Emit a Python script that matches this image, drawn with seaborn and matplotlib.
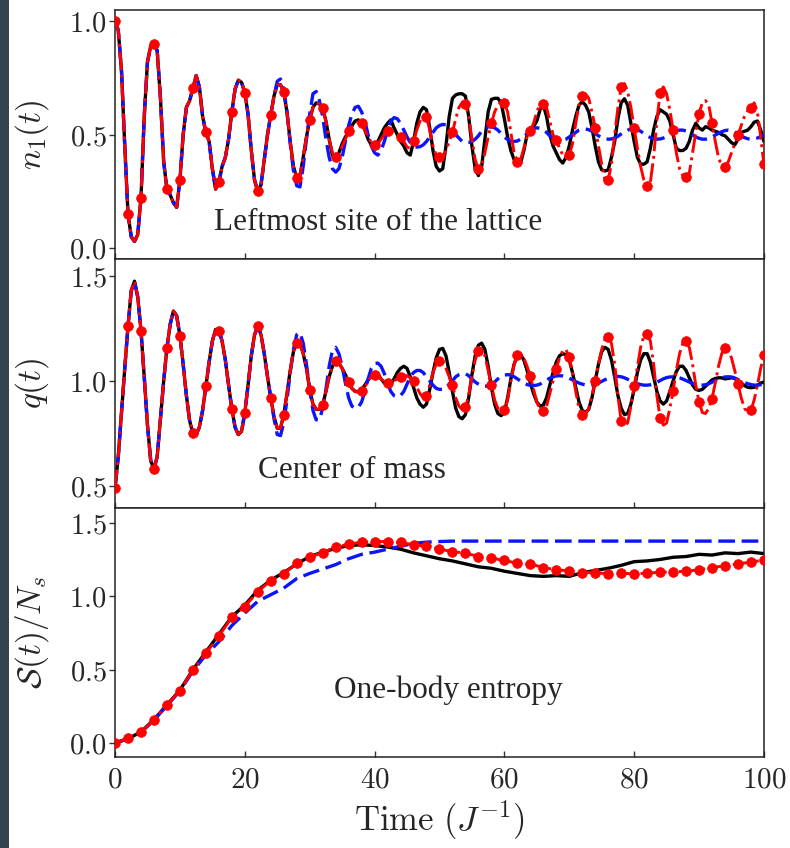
import numpy as np
import matplotlib
matplotlib.use("Agg")
import matplotlib.pyplot as plt
from matplotlib.patches import Rectangle
from matplotlib.ticker import FuncFormatter
import seaborn as sns

# Time grids: dense grid for the oscillating panels, dots every 2 J^-1
time_fine = np.arange(0, 100.5, 0.5)
time_coarse = np.arange(0, 101, 2)

# ---- n1(t): leftmost site (t = 0 .. 24, all three curves agree) ----
n1_common = [
    1.00, 0.96, 0.78, 0.45, 0.15, 0.05, 0.03, 0.06, 0.22, 0.58,
    0.82, 0.89, 0.90, 0.87, 0.66, 0.38, 0.26, 0.235, 0.20, 0.18,
    0.30, 0.50, 0.62, 0.65, 0.705, 0.76, 0.71, 0.58, 0.51, 0.47,
    0.35, 0.26, 0.29, 0.36, 0.40, 0.48, 0.60, 0.70, 0.74, 0.73,
    0.685, 0.59, 0.43, 0.30, 0.25, 0.28, 0.39, 0.50, 0.587,
]
# t = 24.5 .. 100
n1_black_tail = [
    0.67, 0.72, 0.72, 0.687, 0.60, 0.47, 0.36, 0.31, 0.32, 0.40,
    0.49, 0.565, 0.62, 0.64, 0.635, 0.617, 0.56, 0.48, 0.41, 0.395,
    0.42, 0.46, 0.49, 0.51, 0.54, 0.56, 0.565, 0.55, 0.52, 0.48,
    0.455, 0.45, 0.47, 0.50, 0.53, 0.55, 0.565, 0.53, 0.50, 0.47,
    0.45, 0.42, 0.41, 0.47, 0.55, 0.60, 0.62, 0.61, 0.53, 0.43,
    0.36, 0.34, 0.35, 0.45, 0.58, 0.66, 0.675, 0.68, 0.68, 0.67,
    0.58, 0.45, 0.35, 0.32, 0.36, 0.48, 0.60, 0.655, 0.66, 0.66,
    0.64, 0.57, 0.49, 0.43, 0.39, 0.37, 0.375, 0.43, 0.50, 0.53,
    0.535, 0.56, 0.61, 0.63, 0.58, 0.50, 0.45, 0.42, 0.39, 0.375,
    0.40, 0.45, 0.52, 0.58, 0.63, 0.645, 0.63, 0.60, 0.53, 0.45,
    0.38, 0.345, 0.34, 0.345, 0.40, 0.47, 0.57, 0.64, 0.658, 0.63,
    0.55, 0.47, 0.40, 0.37, 0.37, 0.38, 0.44, 0.52, 0.58, 0.61,
    0.60, 0.59, 0.56, 0.50, 0.44, 0.43, 0.43, 0.44, 0.47, 0.52,
    0.55, 0.53, 0.52, 0.535, 0.53, 0.52, 0.515, 0.51, 0.50, 0.495,
    0.48, 0.465, 0.455, 0.48, 0.51, 0.515, 0.52, 0.535, 0.555, 0.56,
    0.52, 0.47,
]
n1_red_tail = [
    0.67, 0.72, 0.72, 0.687, 0.60, 0.47, 0.36, 0.31, 0.32, 0.40,
    0.49, 0.565, 0.62, 0.64, 0.635, 0.617, 0.56, 0.48, 0.42, 0.40,
    0.42, 0.45, 0.48, 0.514, 0.535, 0.55, 0.555, 0.55, 0.52, 0.49,
    0.465, 0.455, 0.46, 0.48, 0.50, 0.514, 0.52, 0.51, 0.50, 0.49,
    0.47, 0.445, 0.44, 0.47, 0.52, 0.56, 0.58, 0.578, 0.52, 0.45,
    0.41, 0.40, 0.40, 0.43, 0.47, 0.51, 0.57, 0.62, 0.64, 0.634,
    0.58, 0.48, 0.39, 0.347, 0.36, 0.42, 0.49, 0.55, 0.60, 0.63,
    0.645, 0.64, 0.60, 0.51, 0.42, 0.38, 0.39, 0.44, 0.49, 0.517,
    0.55, 0.60, 0.635, 0.637, 0.62, 0.56, 0.50, 0.476, 0.44, 0.41,
    0.40, 0.41, 0.46, 0.55, 0.63, 0.67, 0.68, 0.66, 0.60, 0.53,
    0.45, 0.37, 0.30, 0.30, 0.37, 0.50, 0.62, 0.708, 0.725, 0.69,
    0.62, 0.53, 0.44, 0.36, 0.30, 0.273, 0.29, 0.40, 0.56, 0.684,
    0.71, 0.68, 0.61, 0.52, 0.42, 0.35, 0.32, 0.315, 0.33, 0.42,
    0.51, 0.593, 0.64, 0.65, 0.63, 0.55, 0.47, 0.40, 0.36, 0.359,
    0.38, 0.42, 0.46, 0.497, 0.54, 0.58, 0.605, 0.616, 0.64, 0.60,
    0.49, 0.37,
]
n1_blue_tail = [
    0.67, 0.735, 0.745, 0.70, 0.60, 0.46, 0.34, 0.275, 0.27, 0.36,
    0.48, 0.59, 0.68, 0.69, 0.65, 0.58, 0.48, 0.40, 0.35, 0.335,
    0.35, 0.40, 0.47, 0.54, 0.59, 0.62, 0.625, 0.60, 0.56, 0.50,
    0.45, 0.42, 0.41, 0.43, 0.47, 0.52, 0.56, 0.575, 0.57, 0.55,
    0.52, 0.49, 0.465, 0.45, 0.445, 0.447, 0.455, 0.47, 0.49, 0.51,
    0.53, 0.54, 0.545, 0.543, 0.535, 0.52, 0.50, 0.485, 0.47, 0.466,
    0.466, 0.47, 0.48, 0.495, 0.515, 0.528, 0.534, 0.535, 0.53, 0.52,
    0.505, 0.49, 0.478, 0.472, 0.47, 0.472, 0.48, 0.49, 0.505, 0.518,
    0.527, 0.53, 0.528, 0.52, 0.51, 0.495, 0.485, 0.478, 0.475, 0.476,
    0.48, 0.49, 0.50, 0.51, 0.52, 0.524, 0.525, 0.522, 0.515, 0.505,
    0.495, 0.487, 0.482, 0.48, 0.481, 0.485, 0.493, 0.503, 0.513, 0.52,
    0.524, 0.525, 0.522, 0.515, 0.505, 0.495, 0.487, 0.482, 0.48, 0.481,
    0.485, 0.492, 0.50, 0.51, 0.517, 0.52, 0.52, 0.516, 0.51, 0.50,
    0.49, 0.484, 0.48, 0.48, 0.483, 0.49, 0.498, 0.506, 0.513, 0.518,
    0.52, 0.518, 0.512, 0.503, 0.494, 0.487, 0.482, 0.48, 0.481, 0.485,
    0.492, 0.50,
]

# ---- q(t): center of mass ----
q_common = [
    0.49, 0.64, 0.85, 1.06, 1.26, 1.43, 1.475, 1.40, 1.24, 1.02,
    0.79, 0.62, 0.58, 0.64, 0.82, 1.00, 1.157, 1.27, 1.333, 1.31,
    1.216, 1.08, 0.93, 0.81, 0.75, 0.745, 0.78, 0.86, 0.975, 1.09,
    1.19, 1.245, 1.24, 1.19, 1.10, 0.98, 0.868, 0.78, 0.745, 0.76,
    0.848, 0.98, 1.12, 1.22, 1.26, 1.22, 1.13, 1.02, 0.919,
]
q_black_tail = [
    0.83, 0.775, 0.775, 0.84, 0.94, 1.05, 1.14, 1.185, 1.18, 1.13,
    1.06, 0.958, 0.89, 0.865, 0.865, 0.887, 0.95, 1.02, 1.07, 1.094,
    1.085, 1.06, 1.03, 0.995, 0.965, 0.95, 0.95, 0.96, 0.98, 1.005,
    1.03, 1.038, 1.03, 1.01, 0.99, 0.98, 0.985, 1.01, 1.04, 1.06,
    1.07, 1.06, 1.02, 0.97, 0.92, 0.89, 0.875, 0.89, 0.96, 1.04,
    1.11, 1.15, 1.155, 1.12, 1.04, 0.95, 0.87, 0.83, 0.82, 0.84,
    0.92, 1.03, 1.12, 1.17, 1.18, 1.15, 1.07, 0.97, 0.89, 0.845,
    0.835, 0.85, 0.92, 1.01, 1.08, 1.12, 1.125, 1.10, 1.05, 0.99,
    0.94, 0.90, 0.88, 0.885, 0.92, 0.98, 1.04, 1.09, 1.12, 1.13,
    1.125, 1.10, 1.04, 0.97, 0.90, 0.86, 0.85, 0.865, 0.92, 1.00,
    1.08, 1.14, 1.16, 1.15, 1.10, 1.02, 0.93, 0.87, 0.84, 0.845,
    0.89, 0.96, 1.04, 1.10, 1.13, 1.13, 1.09, 1.02, 0.95, 0.905,
    0.89, 0.905, 0.95, 1.0, 1.045, 1.07, 1.07, 1.05, 1.015, 0.98,
    0.96, 0.955, 0.96, 0.975, 0.99, 1.005, 1.012, 1.015, 1.015, 1.01,
    1.012, 1.015, 1.012, 1.0, 0.99, 0.978, 0.97, 0.968, 0.97, 0.98,
    0.99, 0.995,
]
q_red_tail = [
    0.83, 0.775, 0.775, 0.84, 0.94, 1.05, 1.14, 1.18, 1.18, 1.13,
    1.06, 0.958, 0.89, 0.865, 0.865, 0.887, 0.95, 1.02, 1.07, 1.094,
    1.085, 1.06, 1.03, 0.995, 0.965, 0.95, 0.945, 0.95, 0.97, 1.0,
    1.02, 1.03, 1.025, 1.01, 0.995, 0.99, 0.99, 1.0, 1.01, 1.017,
    1.025, 1.025, 1.015, 1.0, 0.97, 0.94, 0.92, 0.93, 0.98, 1.04,
    1.08, 1.094, 1.09, 1.06, 1.02, 0.98, 0.92, 0.88, 0.865, 0.875,
    0.93, 1.02, 1.10, 1.145, 1.15, 1.12, 1.05, 0.98, 0.91, 0.87,
    0.855, 0.86, 0.91, 1.0, 1.08, 1.125, 1.13, 1.11, 1.07, 1.022,
    0.96, 0.90, 0.865, 0.859, 0.88, 0.94, 1.0, 1.059, 1.11, 1.145,
    1.15, 1.112, 1.04, 0.95, 0.87, 0.837, 0.84, 0.87, 0.93, 1.0,
    1.08, 1.15, 1.2, 1.21, 1.18, 1.08, 0.93, 0.808, 0.785, 0.80,
    0.88, 0.974, 1.07, 1.16, 1.215, 1.225, 1.19, 1.08, 0.93, 0.824,
    0.79, 0.80, 0.87, 0.954, 1.05, 1.13, 1.18, 1.19, 1.16, 1.08,
    0.98, 0.90, 0.85, 0.845, 0.87, 0.916, 0.99, 1.07, 1.13, 1.155,
    1.15, 1.11, 1.05, 0.985, 0.92, 0.87, 0.85, 0.86, 0.91, 0.98,
    1.06, 1.122,
]
q_blue_tail = [
    0.82, 0.745, 0.74, 0.80, 0.91, 1.04, 1.15, 1.22, 1.23, 1.18,
    1.08, 0.96, 0.86, 0.815, 0.815, 0.87, 0.96, 1.07, 1.145, 1.16,
    1.13, 1.07, 0.99, 0.92, 0.88, 0.87, 0.875, 0.90, 0.95, 1.01,
    1.06, 1.083, 1.085, 1.07, 1.035, 0.99, 0.95, 0.93, 0.925, 0.93,
    0.95, 0.985, 1.02, 1.04, 1.05, 1.05, 1.04, 1.02, 1.0, 0.98,
    0.965, 0.96, 0.96, 0.97, 0.985, 1.0, 1.02, 1.03, 1.035, 1.035,
    1.025, 1.01, 0.995, 0.985, 0.977, 0.975, 0.976, 0.985, 0.995, 1.01,
    1.022, 1.028, 1.03, 1.028, 1.02, 1.01, 1.0, 0.99, 0.983, 0.979,
    0.978, 0.98, 0.985, 0.995, 1.005, 1.013, 1.02, 1.024, 1.025, 1.024,
    1.02, 1.013, 1.005, 0.997, 0.99, 0.985, 0.981, 0.98, 0.981, 0.985,
    0.99, 0.998, 1.006, 1.013, 1.019, 1.022, 1.022, 1.02, 1.015, 1.008,
    1.0, 0.993, 0.987, 0.983, 0.98, 0.98, 0.982, 0.987, 0.994, 1.002,
    1.01, 1.016, 1.019, 1.02, 1.019, 1.015, 1.009, 1.002, 0.995, 0.988,
    0.983, 0.98, 0.98, 0.982, 0.987, 0.994, 1.002, 1.01, 1.016, 1.019,
    1.02, 1.019, 1.014, 1.007, 1.0, 0.993, 0.987, 0.983, 0.98, 0.98,
    0.982, 0.985,
]

# ---- S(t)/Ns: one-body entropy, t = 0, 2, ..., 100 ----
s_red = [
    0.0, 0.032, 0.073, 0.157, 0.259, 0.357, 0.498, 0.611, 0.729, 0.857,
    0.929, 1.031, 1.106, 1.152, 1.225, 1.266, 1.297, 1.334, 1.354, 1.368,
    1.372, 1.372, 1.366, 1.35, 1.34, 1.32, 1.304, 1.293, 1.27, 1.259,
    1.243, 1.225, 1.22, 1.195, 1.18, 1.172, 1.161, 1.161, 1.152, 1.157,
    1.152, 1.157, 1.163, 1.166, 1.170, 1.18, 1.195, 1.207, 1.22, 1.232, 1.247,
]
s_black = [
    0.0, 0.03, 0.075, 0.16, 0.26, 0.36, 0.50, 0.62, 0.74, 0.86,
    0.94, 1.04, 1.11, 1.16, 1.22, 1.27, 1.30, 1.325, 1.345, 1.35,
    1.345, 1.335, 1.32, 1.295, 1.275, 1.255, 1.24, 1.22, 1.20, 1.19,
    1.17, 1.155, 1.14, 1.135, 1.14, 1.135, 1.16, 1.175, 1.19, 1.21,
    1.235, 1.24, 1.25, 1.265, 1.27, 1.285, 1.28, 1.295, 1.29, 1.30, 1.29,
]
s_blue = [
    0.0, 0.03, 0.075, 0.155, 0.255, 0.355, 0.49, 0.60, 0.69, 0.80,
    0.885, 0.965, 1.01, 1.055, 1.12, 1.155, 1.185, 1.215, 1.255, 1.285,
    1.30, 1.32, 1.34, 1.36, 1.368, 1.372, 1.375, 1.375, 1.375, 1.375,
    1.375, 1.375, 1.375, 1.375, 1.375, 1.375, 1.375, 1.375, 1.375, 1.375,
    1.375, 1.375, 1.375, 1.375, 1.375, 1.375, 1.375, 1.375, 1.375, 1.375, 1.375,
]

panel_texts = ["Leftmost site of the lattice", "Center of mass", "One-body entropy"]
y_labels = [r"$n_1(t)$", r"$q(t)$", r"$\mathcal{S}(t)/N_s$"]


def draw_panel(ax, t, black, red, blue, mark_step):
    sns.lineplot(x=t, y=black, color="black", lw=2.4, zorder=2,
                 errorbar=None, ax=ax)
    sns.lineplot(x=t, y=blue, color="#0a14ff", lw=2.4, linestyle=(0, (5, 2)),
                 zorder=3, errorbar=None, ax=ax)
    sns.lineplot(x=t, y=red, color="red", lw=2.1, linestyle="-.",
                 marker="o", markersize=7, markevery=mark_step,
                 markeredgecolor="red", markeredgewidth=0.5,
                 zorder=4, errorbar=None, ax=ax)


sns.set_style("ticks")
plt.rcParams["mathtext.fontset"] = "cm"
plt.rcParams["font.family"] = ["DejaVu Serif"]

fig, axes = plt.subplots(3, 1, sharex=True, figsize=(7.9, 8.48), dpi=100)
fig.subplots_adjust(left=0.1456, right=0.967, top=0.988, bottom=0.1073, hspace=0)

draw_panel(axes[0], time_fine, np.array(n1_common + n1_black_tail),
           np.array(n1_common + n1_red_tail), np.array(n1_common + n1_blue_tail), 4)
draw_panel(axes[1], time_fine, np.array(q_common + q_black_tail),
           np.array(q_common + q_red_tail), np.array(q_common + q_blue_tail), 4)
draw_panel(axes[2], time_coarse, np.array(s_black), np.array(s_red), np.array(s_blue), 1)

y_limits = [(-0.048, 1.048), (0.395, 1.58), (-0.095, 1.6)]
y_ticks = [[0.0, 0.5, 1.0], [0.5, 1.0, 1.5], [0.0, 0.5, 1.0, 1.5]]
text_pos = [(40.5, 0.115), (36.5, 0.576), (51.3, 0.36)]

for ax, lim, ticks, lab, txt, pos in zip(axes, y_limits, y_ticks, y_labels,
                                          panel_texts, text_pos):
    ax.set_xlim(0, 100)
    ax.set_ylim(*lim)
    ax.set_yticks(ticks)
    ax.set_xticks([0, 20, 40, 60, 80, 100])
    ax.yaxis.set_major_formatter(FuncFormatter(lambda v, _: f"${v:.1f}$"))
    ax.xaxis.set_major_formatter(FuncFormatter(lambda v, _: f"${v:.0f}$"))
    ax.tick_params(axis="y", direction="out", length=4, width=1, pad=2,
                   labelsize=20.5, color="#333333")
    ax.tick_params(axis="x", direction="in", length=4, width=1, pad=6,
                   labelsize=21, color="#333333")
    for sp in ax.spines.values():
        sp.set_linewidth(1.1)
        sp.set_color("#222222")
    ax.set_ylabel(lab, fontsize=24)
    ax.yaxis.set_label_coords(-0.098, 0.5)
    ax.text(pos[0], pos[1], txt, ha="center", va="center", fontsize=22.5,
            family=["Liberation Serif", "DejaVu Serif"], zorder=5)

axes[2].set_xlabel(r"$\mathrm{Time}\ (J^{-1})$", fontsize=25, labelpad=4)

# dark strip on the left edge of the screenshot
fig.patches.append(Rectangle((0, 0), 9 / 790, 1, transform=fig.transFigure,
                             facecolor="#34444f", edgecolor="none", zorder=0))

fig.savefig("out.png", dpi=100)
